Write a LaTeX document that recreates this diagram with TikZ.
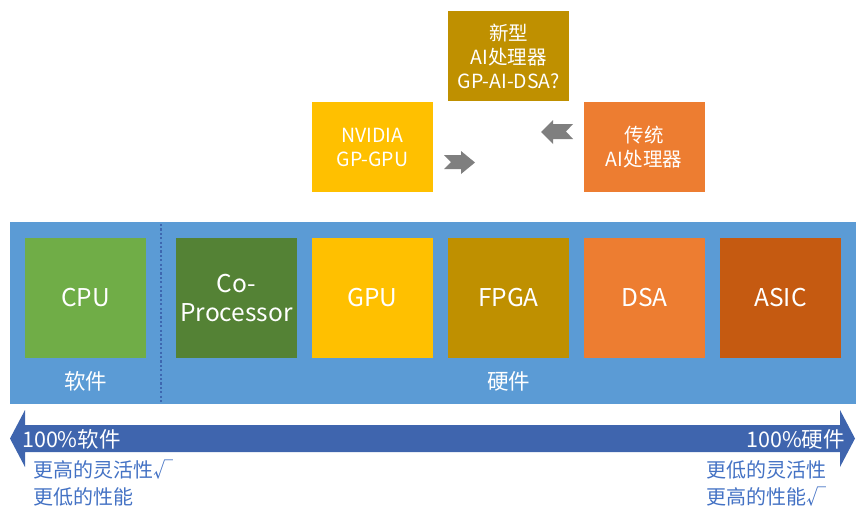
\documentclass[tikz,border=0pt]{standalone}
\usepackage{fontspec}
\setmainfont{Noto Sans CJK SC}
\usepackage{xcolor}
\usepackage{tikz}
\usetikzlibrary{positioning}

\definecolor{fondoblu}{HTML}{5B9BD5}
\definecolor{bluscuro}{HTML}{4472C4}
\definecolor{frecciablu}{HTML}{3F65AE}
\definecolor{grigio}{HTML}{7F7F7F}
\definecolor{verdecpu}{HTML}{70AD47}
\definecolor{verdecop}{HTML}{548235}
\definecolor{gialloGPU}{HTML}{FFC000}
\definecolor{oroFPGA}{HTML}{BF9000}
\definecolor{aranciodsa}{HTML}{ED7D31}
\definecolor{ruggineasic}{HTML}{C55A11}

\begin{document}
\begin{tikzpicture}[x=1pt, y=-1pt,
    chip/.style={minimum width=121pt, minimum height=120pt, inner sep=0pt, text=white, align=center, font=\fontsize{24.5}{29}\selectfont},
    tipo/.style={minimum width=121pt, minimum height=90pt, inner sep=0pt, text=white, align=center, font=\fontsize{19.5}{24}\selectfont},
    etichetta/.style={text=white, inner sep=0pt, font=\fontsize{21.5}{24}\selectfont},
    nota/.style={text=bluscuro, align=left, inner sep=0pt, font=\fontsize{20}{27}\selectfont}]
    \useasboundingbox (0,0) rectangle (865,523);

    % Fascia blu di sfondo
    \fill[fondoblu] (10,222) rectangle (856,404);
    \draw[bluscuro!90!black, line width=1.6pt, dash pattern=on 2.2pt off 2.2pt] (161,224) -- (161,402);

    % Blocchi dei processori
    \node[chip, fill=verdecpu] (cpu) at (85.5,298) {CPU};
    \node[chip, fill=verdecop] (cop) at (236.5,298) {Co-\\Processor};
    \node[chip, fill=gialloGPU] (gpu) at (372.5,298) {GPU};
    \node[chip, fill=oroFPGA] (fpga) at (508.5,298) {FPGA};
    \node[chip, fill=aranciodsa] (dsa) at (644.5,298) {DSA};
    \node[chip, fill=ruggineasic] (asic) at (780.5,298) {ASIC};

    % Etichette software / hardware
    \node[etichetta] (sw) at (85.5,381) {软件};
    \node[etichetta] (hw) at (508.5,381) {硬件};

    % Processori AI in alto
    \node[tipo, fill=oroFPGA] (nuovo) at (508.5,56) {新型\\AI处理器\\GP-AI-DSA?};
    \node[tipo, fill=gialloGPU] (nvidia) at (372.5,147) {NVIDIA\\GP-GPU};
    \node[tipo, fill=aranciodsa] (tradiz) at (644,147) {传统\\AI处理器};

    % Frecce grigie
    \fill[grigio] (444,155) -- (461,155) -- (461,151) -- (475,162.5) -- (461,174) -- (461,169) -- (444,169) -- (451,162) -- cycle;
    \fill[grigio] (573,124) -- (553,124) -- (553,120) -- (541,132) -- (553,144) -- (553,139) -- (573,139) -- (566,131.5) -- cycle;

    % Freccia doppia software-hardware
    \fill[frecciablu] (10,438.5) -- (25,410) -- (25,425) -- (840,425) -- (840,410) -- (855,438.5) -- (840,467) -- (840,452) -- (25,452) -- (25,467) -- cycle;
    \node[etichetta, anchor=west] (pctsw) at (22,439) {100\%软件};
    \node[etichetta, anchor=east] (pcthw) at (845,439) {100\%硬件};

    % Note sotto la freccia
    \node[nota, anchor=north west] (notasw) at (33,460) {更高的灵活性√\\更低的性能};
    \node[nota, anchor=north west] (notahw) at (706,460) {更低的灵活性\\更高的性能√};
\end{tikzpicture}
\end{document}
